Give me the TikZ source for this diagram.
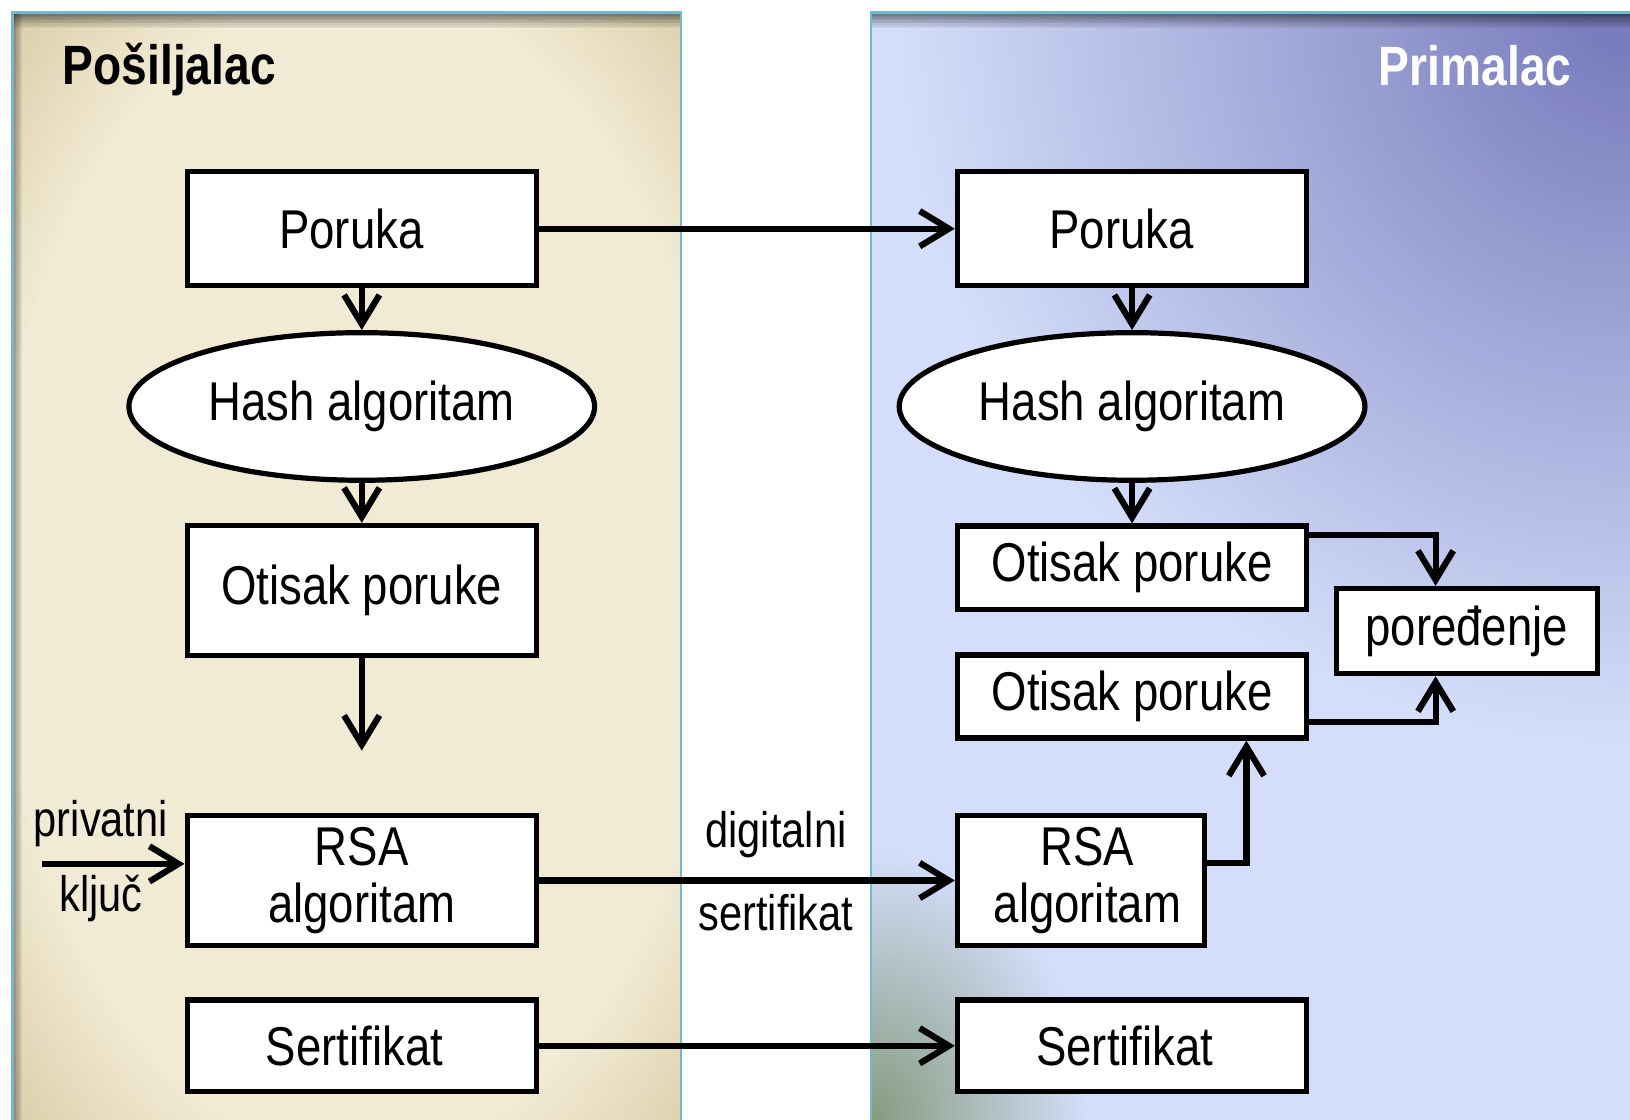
\documentclass[tikz,border=0pt]{standalone}
\usepackage{fontspec}
\setmainfont{Liberation Sans}
\usepackage{graphicx}
\usetikzlibrary{arrows.meta,shapes.geometric}

\definecolor{tanlight}{HTML}{F1EAD4}
\definecolor{tandark}{HTML}{D6C79D}
\definecolor{blight}{HTML}{D4DEFA}
\definecolor{bdark}{HTML}{7A7DBD}
\definecolor{gtint}{HTML}{869B7F}
\definecolor{rim}{HTML}{72B9D0}

% panel backgrounds, used at their natural size
\pgfdeclareradialshading{sandglow}{\pgfpoint{0bp}{0bp}}{color(0bp)=(tanlight); color(280bp)=(tanlight); color(400bp)=(tandark); color(420bp)=(tandark)}
\pgfdeclareradialshading{duskcorner}{\pgfpoint{0bp}{0bp}}{color(0bp)=(bdark); color(20bp)=(bdark); color(350bp)=(blight); color(420bp)=(blight)}
\pgfdeclareradialshading{mosscorner}{\pgfpoint{0bp}{0bp}}{color(0bp)=(gtint); color(130bp)=(blight); color(140bp)=(blight)}

% slightly tall lettering
\newcommand{\tallt}[1]{\scalebox{1}[1.2]{#1}}

\begin{document}
\begin{tikzpicture}[x=0.5pt, y=-0.5pt,
  box/.style={draw, line width=2.5pt, fill=white, inner sep=0pt, minimum width=168pt,
              font=\fontsize{21.9}{27.5}\selectfont},
  oval/.style={ellipse, draw, line width=2.5pt, fill=white, inner sep=0pt,
               minimum width=224pt, minimum height=71pt, font=\fontsize{21.9}{27.5}\selectfont},
  conn/.style={line width=3pt, -{Straight Barb[length=14pt, width=17pt]}},
  lbl/.style={font=\fontsize{20}{24}\selectfont, inner sep=0pt},
  title/.style={font=\fontsize{22.2}{26}\selectfont\bfseries, inner sep=0pt},
  glow/.style={inner sep=0pt, outer sep=0pt}
]
\useasboundingbox (0,0) rectangle (1568,1077);

% ---- sender panel ----
\begin{scope}
  \clip (12,12) rectangle (655,1077);
  \fill[tandark] (12,12) rectangle (655,1077);
  \node[glow] (sandbg) at (345,550) {\scalebox{0.62}[1]{\pgfuseshading{sandglow}}};
  \foreach \i [evaluate=\i as \op using 0.5*(1-\i/10)] in {0,...,9}{
    \fill[black, opacity=\op] (12,{12+\i*1.5}) rectangle (655,{13.5+\i*1.5});
  }
  \foreach \i [evaluate=\i as \op using 0.4*(1-\i/8)] in {0,...,7}{
    \fill[black, opacity=\op] ({12+\i*1.2},12) rectangle ({13.2+\i*1.2},1077);
  }
\end{scope}
\draw[rim, line width=1.2pt] (12,1077) -- (12,12) -- (655,12) -- (655,1077);

% ---- receiver panel ----
\begin{scope}
  \clip (838,12) rectangle (1568,1077);
  \fill[blight] (838,12) rectangle (1568,1077);
  \node[glow] (duskbg) at (1568,12) {\pgfuseshading{duskcorner}};
  \node[glow] (mossbg) at (838,1077) {\scalebox{0.8}[1]{\pgfuseshading{mosscorner}}};
  \foreach \i [evaluate=\i as \op using 0.5*(1-\i/10)] in {0,...,9}{
    \fill[black, opacity=\op] (838,{12+\i*1.5}) rectangle (1568,{13.5+\i*1.5});
  }
\end{scope}
\draw[rim, line width=1.2pt] (838,1077) -- (838,12) -- (1568,12);

% ---- titles ----
\node[title, anchor=west] (sndtitle) at (60,67) {\tallt{Pošiljalac}};
\node[title, anchor=east, text=white] (rcvtitle) at (1512,63) {\tallt{Primalac}};

% ---- sender side ----
\node[box, minimum height=55pt] (sP) at (348,220) {\tallt{Poruka}\kern10pt};
\node[oval] (sH) at (348,391) {\tallt{Hash algoritam}};
\node[box, minimum height=62.5pt] (sO) at (348,568) {\tallt{Otisak poruke}};
\node[box, minimum height=62.5pt, align=center] (sR) at (348,847) {\tallt{RSA}\\\tallt{algoritam}};
\node[box, minimum height=44pt] (sS) at (348,1006) {\tallt{Sertifikat}\kern7pt};

\node[lbl] (kTop) at (97,792) {\tallt{privatni}};
\node[lbl] (kBot) at (97,864) {\tallt{ključ}};
\coordinate (kIn) at (40,831);
\coordinate (sDrop) at (348,722);

% ---- receiver side ----
\node[box, minimum height=55pt] (rP) at (1089,220) {\tallt{Poruka}\kern10pt};
\node[oval] (rH) at (1089,391) {\tallt{Hash algoritam}};
\node[box, minimum height=40pt] (rO1) at (1089,546) {\tallt{Otisak poruke}};
\node[box, minimum height=40pt] (rO2) at (1089,670) {\tallt{Otisak poruke}};
\node[box, minimum width=125.5pt, minimum height=41pt] (cmp) at (1411,607) {\tallt{poređenje}};
\node[box, minimum width=119pt, minimum height=62.5pt, align=center] (rR) at (1040,847)
  {\hbox{\kern6pt\tallt{RSA}}\\\hbox{\kern6pt\tallt{algoritam}}};
\node[box, minimum height=44pt] (rS) at (1089,1006) {\tallt{Sertifikat}\kern7pt};

% ---- connectors ----
\draw[conn] (sP) -- (rP);
\draw[conn] (sP) -- (sH);
\draw[conn] (sH) -- (sO);
\draw[conn] (sO) -- (sDrop);
\draw[conn] (kIn) -- (kIn -| sR.west);
\draw[conn] (sR) -- (rR)
  node[lbl, pos=0.57, yshift=22pt] (dTop) {\tallt{digitalni}}
  node[lbl, pos=0.57, yshift=-15.5pt] (dBot) {\tallt{sertifikat}};
\draw[conn] (sS) -- (rS);

\draw[conn] (rP) -- (rH);
\draw[conn] (rH) -- (rO1);
\draw[conn] ([yshift=-5.5pt]rO1.north east) -| ([xshift=-15pt]cmp.north);
\draw[conn] ([yshift=9pt]rO2.south east) -| ([xshift=-15pt]cmp.south);
\draw[conn] ([yshift=8.5pt]rR.east) -| ([xshift=55pt]rO2.south);
\end{tikzpicture}
\end{document}
